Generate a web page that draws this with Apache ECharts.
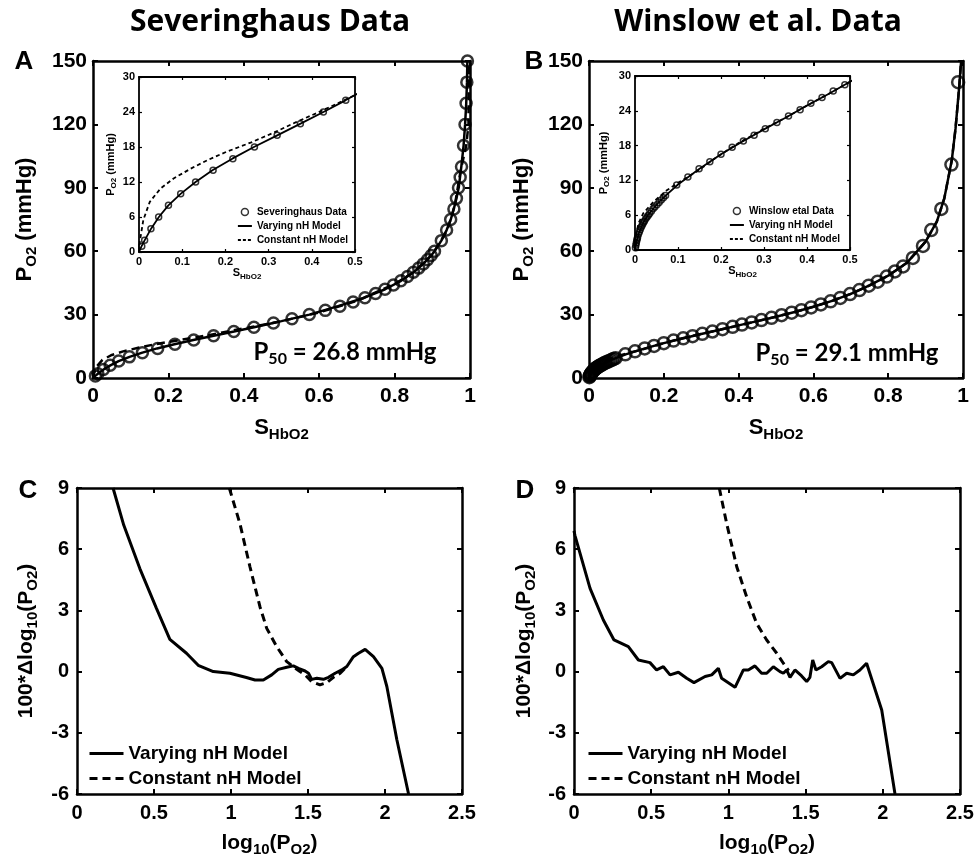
<!DOCTYPE html>
<html>
<head>
<meta charset="utf-8">
<script src="https://cdn.jsdelivr.net/npm/echarts@6/dist/echarts.min.js"></script>
<style>
  html, body { margin: 0; padding: 0; background: #fff; }
  #chart { width: 974px; height: 861px; }
</style>
</head>
<body>
<div id="chart"></div>
<script>
// Severinghaus data points (S_HbO2, P_O2)
const sevP = [1, 2, 4, 6, 8, 10, 12, 14, 16, 18, 20, 22, 24, 26, 28, 30, 32, 34, 36, 38, 40, 42, 44, 46, 48, 50,
  52, 54, 56, 58, 60, 65, 70, 75, 80, 85, 90, 95, 100, 110, 120, 130, 140, 150];
const sevS = [0.0064, 0.0130, 0.0276, 0.0455, 0.0682, 0.0965, 0.1310, 0.1715, 0.2173, 0.2672, 0.3198, 0.3735,
  0.4268, 0.4786, 0.5278, 0.5738, 0.6162, 0.6549, 0.6899, 0.7213, 0.7495, 0.7745, 0.7969, 0.8167, 0.8343,
  0.8499, 0.8638, 0.8762, 0.8872, 0.8970, 0.9058, 0.9240, 0.9379, 0.9487, 0.9573, 0.9640, 0.9695, 0.9739,
  0.9775, 0.9829, 0.9868, 0.9896, 0.9916, 0.9932];

// Winslow et al. data points
const winS = [0.001, 0.002, 0.003, 0.004, 0.005, 0.006, 0.008, 0.010, 0.012, 0.014, 0.016, 0.018, 0.020, 0.022,
  0.025, 0.028, 0.031, 0.034, 0.038, 0.042, 0.046, 0.051, 0.056, 0.061, 0.066, 0.071, 0.097, 0.123, 0.149,
  0.174, 0.200, 0.226, 0.252, 0.277, 0.303, 0.330, 0.357, 0.384, 0.409, 0.435, 0.461, 0.488, 0.515, 0.542,
  0.568, 0.594, 0.620, 0.646, 0.672, 0.698, 0.723, 0.748, 0.772, 0.796, 0.818, 0.840, 0.866, 0.893, 0.915,
  0.942, 0.969, 0.987];
const winP = [0.4, 0.8, 1.2, 1.6, 1.9, 2.2, 2.7, 3.1, 3.5, 3.9, 4.2, 4.5, 4.8, 5.0, 5.4, 5.7, 6.0, 6.3, 6.7,
  7.1, 7.4, 7.8, 8.2, 8.6, 9.0, 9.4, 11.2, 12.6, 14.0, 15.2, 16.5, 17.7, 18.8, 19.8, 20.9, 22.0, 23.1, 24.2,
  25.3, 26.3, 27.4, 28.5, 29.7, 30.9, 32.1, 33.4, 34.8, 36.3, 37.9, 39.7, 41.6, 43.7, 45.6, 48.0, 50.4, 52.8,
  56.8, 62.5, 70, 80, 101, 140];

// model curves [S, P]
const varyA = [[0, 0], [0.006, 1], [0.013, 2], [0.028, 4], [0.046, 6], [0.068, 8], [0.097, 10], [0.131, 12],
  [0.17, 14], [0.216, 16], [0.266, 18], [0.32, 20], [0.374, 22], [0.427, 24], [0.478, 26], [0.5, 26.9],
  [0.574, 30], [0.65, 34], [0.72, 38], [0.775, 42], [0.817, 46], [0.85, 50], [0.876, 54], [0.897, 58],
  [0.906, 60], [0.924, 65], [0.938, 70], [0.949, 75], [0.957, 80], [0.964, 85], [0.97, 90], [0.977, 100],
  [0.983, 110], [0.987, 120], [0.99, 130], [0.992, 140], [0.993, 150]];
const constA = [[0, 0], [0.002, 1.8], [0.005, 3.2], [0.01, 5.5], [0.025, 8.6], [0.05, 10.9], [0.08, 12.6],
  [0.12, 14.3], [0.16, 15.8], [0.2, 17.1], [0.26, 18.8], [0.31, 20.4], [0.365, 22.3], [0.42, 24.1],
  [0.5, 26.9], [0.6, 31], [0.7, 36.5], [0.8, 44.5], [0.85, 50], [0.9, 58.5], [0.94, 70], [0.96, 82],
  [0.975, 98], [0.99, 110], [0.996, 120], [0.997, 150]];
const varyB = [[0, 0], [0.002, 0.8], [0.005, 1.9], [0.01, 3.1], [0.02, 4.8], [0.03, 6.0], [0.04, 6.9],
  [0.055, 8.2], [0.07, 9.3], [0.1, 11.3], [0.15, 14.0], [0.2, 16.5], [0.25, 18.7], [0.3, 20.8], [0.35, 22.8],
  [0.4, 24.9], [0.45, 26.9], [0.5, 29.0], [0.55, 31.2], [0.6, 33.7], [0.65, 36.5], [0.7, 39.8], [0.75, 43.8],
  [0.8, 48.4], [0.85, 54.5], [0.9, 64.5], [0.93, 74], [0.95, 85], [0.97, 103], [0.98, 118], [0.99, 138],
  [0.995, 150]];
const constB = [[0, 0], [0.002, 2.3], [0.008, 4.6], [0.019, 6.3], [0.043, 8.3], [0.074, 10.3], [0.105, 11.8],
  [0.143, 13.5], [0.19, 16.0], [0.24, 18.4], [0.3, 20.9], [0.35, 22.8], [0.4, 24.9], [0.45, 26.9], [0.5, 29.0],
  [0.55, 31.2], [0.6, 33.7], [0.65, 36.5], [0.7, 39.8], [0.75, 43.8], [0.8, 48.4], [0.85, 54.5], [0.9, 64.5],
  [0.93, 74], [0.95, 85], [0.97, 103], [0.98, 118], [0.99, 138], [0.995, 150]];

// residuals [log10(PO2), 100*dlog10(PO2)]
const varyC = [[0.234, 9], [0.304, 7.17], [0.408, 5.05], [0.516, 3.1], [0.603, 1.58], [0.711, 0.9], [0.787, 0.31],
  [0.885, 0], [0.993, -0.08], [1.1, -0.29], [1.156, -0.41], [1.21, -0.41], [1.264, -0.16], [1.307, 0.11],
  [1.362, 0.21], [1.405, 0.28], [1.438, 0.16], [1.481, 0.03], [1.503, -0.08], [1.524, -0.38], [1.557, -0.33],
  [1.6, -0.38], [1.633, -0.28], [1.676, -0.08], [1.719, 0.08], [1.752, 0.25], [1.795, 0.73], [1.828, 0.9],
  [1.871, 1.09], [1.925, 0.73], [1.98, 0.16], [2.012, -0.73], [2.077, -3.34], [2.153, -6]];
const constC = [[0.989, 9], [1.058, 7.25], [1.123, 5.14], [1.188, 3.18], [1.232, 2.12], [1.297, 1.22],
  [1.362, 0.49], [1.405, 0.24], [1.448, 0], [1.481, -0.16], [1.524, -0.49], [1.578, -0.65], [1.622, -0.54],
  [1.665, -0.28], [1.709, -0.08], [1.73, 0.08], [1.752, 0.25]];
const varyD = [[0, 6.9], [0.006, 6.68], [0.104, 4.08], [0.19, 2.53], [0.259, 1.55], [0.352, 1.22], [0.417, 0.57],
  [0.492, 0.44], [0.535, 0.08], [0.579, 0.24], [0.622, -0.16], [0.676, -0.03], [0.73, -0.33], [0.777, -0.54],
  [0.849, -0.24], [0.892, -0.16], [0.935, 0.16], [0.956, -0.33], [1.043, -0.77], [1.097, 0.08], [1.129, 0.08],
  [1.172, 0.28], [1.215, -0.08], [1.248, -0.08], [1.291, 0.24], [1.334, 0], [1.356, -0.08], [1.377, 0.08],
  [1.399, -0.28], [1.431, 0.08], [1.474, -0.21], [1.507, -0.49], [1.528, -0.28], [1.546, 0.57], [1.567, 0.08],
  [1.604, 0.24], [1.647, 0.49], [1.669, 0.44], [1.723, -0.33], [1.766, -0.08], [1.809, -0.16], [1.852, 0.08],
  [1.895, 0.41], [1.993, -1.88], [2.079, -6]];
const constD = [[0.941, 9], [0.989, 7.25], [1.054, 5.14], [1.118, 3.67], [1.183, 2.36], [1.248, 1.55],
  [1.313, 0.9], [1.356, 0.41], [1.39, 0.05]];

const ARIAL = '"Liberation Sans", Arial, Helvetica, sans-serif';
const CALI = 'Lato, "Open Sans", sans-serif';
const TITLE = '"Open Sans", Lato, sans-serif';

const chart = echarts.init(document.getElementById('chart'));

const xAxes = [];
const yAxes = [];

function subRich(big, small, down) {
    return {
        m: { fontSize: big, fontWeight: 'bold', fontFamily: ARIAL, color: '#000' },
        s: { fontSize: small, fontWeight: 'bold', fontFamily: ARIAL, color: '#000', padding: [down, 0, 0, 0] },
    };
}

// box axes: labelled bottom/left plus mirrored top/right with inside ticks
function boxAxes(g, xr, yr, st) {
    const line = { show: true, onZero: false, lineStyle: { color: '#000', width: st.lw } };
    const tick = { show: true, inside: true, length: st.tl, lineStyle: { color: '#000', width: st.tw } };
    const lab = { color: '#000', fontSize: st.fs, fontWeight: 'bold', fontFamily: ARIAL };
    const common = { type: 'value', gridIndex: g, axisLine: line, axisTick: tick, splitLine: { show: false } };
    xAxes.push(Object.assign({}, common, {
        position: 'bottom', min: xr[0], max: xr[1], interval: xr[2],
        axisLabel: Object.assign({ margin: st.xm }, lab),
        name: st.xName, nameLocation: 'middle', nameGap: st.xGap,
        nameTextStyle: { rich: st.rich },
    }));
    xAxes.push(Object.assign({}, common, {
        position: 'top', min: xr[0], max: xr[1], interval: xr[2], axisLabel: { show: false },
    }));
    yAxes.push(Object.assign({}, common, {
        position: 'left', min: yr[0], max: yr[1], interval: yr[2],
        axisLabel: Object.assign({ margin: st.ym }, lab),
        name: st.yName, nameLocation: 'middle', nameGap: st.yGap, nameRotate: 90,
        nameTextStyle: { rich: st.rich },
    }));
    yAxes.push(Object.assign({}, common, {
        position: 'right', min: yr[0], max: yr[1], interval: yr[2], axisLabel: { show: false },
    }));
}

const mainSt = (yGap) => ({
    lw: 2.5, tl: 5, tw: 2, fs: 21, xm: 8, ym: 6,
    xName: '{m|S}{s|HbO2}', xGap: 36,
    yName: '{m|P}{s|O2}{m| (mmHg)}', yGap: yGap,
    rich: subRich(22, 15, 13),
});
const insetSt = (yGap) => ({
    lw: 1.8, tl: 3, tw: 1.2, fs: 11, xm: 4, ym: 4,
    xName: '{m|S}{s|HbO2}', xGap: 12,
    yName: '{m|P}{s|O2}{m| (mmHg)}', yGap: yGap,
    rich: subRich(11, 8, 6),
});
const resSt = (yGap) => ({
    lw: 2.5, tl: 5, tw: 2, fs: 20, xm: 9, ym: 8,
    xName: '{m|log}{s|10}{m|(P}{s|O2}{m|)}', xGap: 36,
    yName: '{m|100*\u0394log}{s|10}{m|(P}{s|O2}{m|)}', yGap: yGap,
    rich: subRich(21, 15, 12),
});

const grids = [
    { left: 93, top: 61, width: 377, height: 317 },   // A
    { left: 139, top: 77, width: 216, height: 175 },  // A inset
    { left: 589, top: 61, width: 374, height: 317 },  // B
    { left: 635, top: 76, width: 215, height: 174 },  // B inset
    { left: 77, top: 488, width: 385, height: 306 },  // C
    { left: 574, top: 488, width: 386, height: 306 }, // D
].map((g) => Object.assign({ containLabel: false, outerBoundsMode: 'none' }, g));

boxAxes(0, [0, 1, 0.2], [0, 150, 30], mainSt(54));
boxAxes(1, [0, 0.5, 0.1], [0, 30, 6], insetSt(21));
boxAxes(2, [0, 1, 0.2], [0, 150, 30], mainSt(53));
boxAxes(3, [0, 0.5, 0.1], [0, 30, 6], insetSt(24));
boxAxes(4, [0, 2.5, 0.5], [-6, 9, 3], resSt(37));
boxAxes(5, [0, 2.5, 0.5], [-6, 9, 3], resSt(36));

function pts(s, p) {
    return s.map((v, i) => [v, p[i]]);
}

function circles(name, g, data, size, bw) {
    return {
        name, type: 'scatter', xAxisIndex: 2 * g, yAxisIndex: 2 * g, data, clip: true,
        symbol: 'circle', symbolSize: size, z: 3,
        itemStyle: { color: 'rgba(0,0,0,0)', borderColor: '#000', borderWidth: bw },
    };
}

function curve(name, g, data, w, dash) {
    return {
        name, type: 'line', xAxisIndex: 2 * g, yAxisIndex: 2 * g, data, clip: true,
        symbol: 'none', showSymbol: false, z: 4,
        lineStyle: { color: '#000', width: w, type: dash || 'solid' },
        itemStyle: { color: '#000' },
    };
}

const series = [
    circles('Severinghaus Data', 0, pts(sevS, sevP), 11, 2.5),
    curve('Varying nH Model', 0, varyA, 2.5),
    curve('Constant nH Model', 0, constA, 2.5, [8, 5]),
    circles('Severinghaus Data', 1, pts(sevS, sevP), 6, 1.5),
    curve('Varying nH Model', 1, varyA, 1.8),
    curve('Constant nH Model', 1, constA, 1.8, [4, 3]),
    circles('Winslow etal Data', 2, pts(winS, winP), 12, 2.5),
    curve('Varying nH Model', 2, varyB, 2.5),
    curve('Constant nH Model', 2, constB, 2.5, [8, 5]),
    circles('Winslow etal Data', 3, pts(winS, winP), 6, 1.5),
    curve('Varying nH Model', 3, varyB, 1.8),
    curve('Constant nH Model', 3, constB, 1.8, [4, 3]),
    curve('Varying nH Model', 4, varyC, 3),
    curve('Constant nH Model', 4, constC, 3, [8, 5]),
    curve('Varying nH Model', 5, varyD, 3),
    curve('Constant nH Model', 5, constD, 3, [8, 5]),
];

// hide the marker that echarts puts in the middle of a line legend icon
const noMark = { color: 'rgba(0,0,0,0)', borderWidth: 0 };

const smallLegend = (first, right, top) => ({
    selectedMode: false, orient: 'vertical', right, top, padding: 0,
    itemWidth: 14, itemHeight: 7, itemGap: 4,
    textStyle: { fontSize: 10, fontWeight: 'bold', fontFamily: ARIAL, color: '#000' },
    data: [
        { name: first, icon: 'circle', itemStyle: { color: 'rgba(0,0,0,0)', borderColor: '#000', borderWidth: 1.5 } },
        { name: 'Varying nH Model', itemStyle: noMark, lineStyle: { color: '#000', width: 2, type: 'solid' } },
        { name: 'Constant nH Model', itemStyle: noMark, lineStyle: { color: '#000', width: 2, type: [3, 2] } },
    ],
});
const bigLegend = (left, top) => ({
    selectedMode: false, orient: 'vertical', left, top, padding: 0,
    itemWidth: 34, itemHeight: 14, itemGap: 6,
    textStyle: { fontSize: 19, fontWeight: 'bold', fontFamily: ARIAL, color: '#000' },
    data: [
        { name: 'Varying nH Model', itemStyle: noMark, lineStyle: { color: '#000', width: 3, type: 'solid' } },
        { name: 'Constant nH Model', itemStyle: noMark, lineStyle: { color: '#000', width: 3, type: [8, 5] } },
    ],
});

function label(text, x, y, size, family, rich) {
    return {
        type: 'text', x, y, z: 10,
        style: {
            text, fill: '#000', fontSize: size, fontWeight: 'bold', fontFamily: family,
            align: 'center', verticalAlign: 'middle', rich,
        },
    };
}

const p50Rich = {
    b: { fontSize: 24, fontWeight: 'bold', fontFamily: CALI, fill: '#000' },
    s: { fontSize: 16, fontWeight: 'bold', fontFamily: CALI, fill: '#000', padding: [13, 0, 0, 0] },
};

chart.setOption({
    animation: false,
    backgroundColor: '#fff',
    grid: grids,
    xAxis: xAxes,
    yAxis: yAxes,
    legend: [
        smallLegend('Severinghaus Data', 626, 207),
        smallLegend('Winslow etal Data', 134, 206),
        bigLegend(88, 744),
        bigLegend(587, 744),
    ],
    graphic: [
        label('Severinghaus Data', 270, 22, 30, TITLE),
        label('Winslow et al. Data', 758, 22, 30, TITLE),
        label('A', 24, 62, 26, ARIAL),
        label('B', 534, 62, 26, ARIAL),
        label('C', 28, 491, 26, ARIAL),
        label('D', 525, 491, 26, ARIAL),
        label('{b|P}{s|50}{b| = 26.8 mmHg}', 345, 352, 24, CALI, p50Rich),
        label('{b|P}{s|50}{b| = 29.1 mmHg}', 847, 353, 24, CALI, p50Rich),
    ],
    series,
});
</script>
</body>
</html>
